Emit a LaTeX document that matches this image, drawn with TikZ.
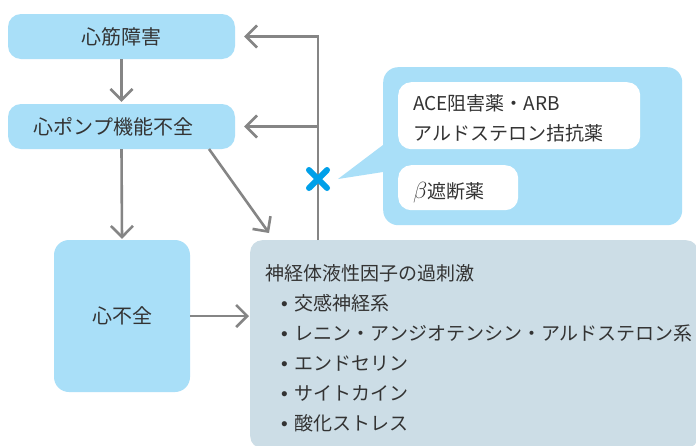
\documentclass[tikz,border=0pt]{standalone}
\usepackage{fontspec}
\setmainfont{Noto Sans CJK JP}
\newfontfamily\bulfont{Liberation Sans}
\usetikzlibrary{arrows.meta,calc}
\definecolor{boxblue}{HTML}{A9DFF8}
\definecolor{nfgray}{HTML}{CCDDE6}
\definecolor{arrgray}{HTML}{858585}
\definecolor{txt}{HTML}{333333}
\definecolor{xblue}{HTML}{00A0E9}
\tikzset{
  bluebox/.style={fill=boxblue, rounded corners=13pt, inner sep=0pt, text=txt, font=\fontsize{20}{24}\selectfont},
  whitebox/.style={fill=white, rounded corners=13pt, inner sep=0pt},
  line/.style={anchor=base west, inner sep=0pt, text=txt, font=\fontsize{19}{24}\selectfont},
  arr/.style={draw=arrgray, line width=2.6pt, -{Straight Barb[length=11pt,width=22pt]}},
  plain/.style={draw=arrgray, line width=2.6pt}
}
\newcommand{\bul}{{\bulfont •}\hspace{7pt}}
\begin{document}
\begin{tikzpicture}[x=1pt,y=-1pt]
\clip (0,0) rectangle (696,445);
\fill[white] (0,0) rectangle (696,445);
% boxes
\node[bluebox, minimum width=227pt, minimum height=45pt] (b1) at (121.5,36.5) {心筋障害};
\node[bluebox, minimum width=227pt, minimum height=45pt] (b2) at (121.5,126.5) {\hspace*{-16pt}心ポンプ機能不全};
\node[bluebox, minimum width=136pt, minimum height=152pt, rounded corners=15pt] (b3) at (122,316) {心不全};
\node[fill=nfgray, rounded corners=12pt, minimum width=448pt, minimum height=208pt, inner sep=0pt, anchor=north west] (nf) at (250,240) {};
% callout
\node[fill=boxblue, rounded corners=15pt, minimum width=299pt, minimum height=158pt, inner sep=0pt, anchor=north west] (co) at (383,67) {};
\fill[boxblue] (co.west |- 0,145) -- (338,179) -- (co.west |- 0,172) -- cycle;
\node[whitebox, minimum width=242pt, minimum height=67pt, anchor=north west] (wa) at (398,82) {};
\node[whitebox, minimum width=120pt, minimum height=45pt, anchor=north west] (wb) at (398,165) {};
\node[line] (ca1) at (413,110) {ACE阻害薬・ARB};
\node[line] (ca2) at (413,140) {アルドステロン拮抗薬};
\node[line] (cb1) at (413,198) {\scalebox{1.35}{$\beta$}遮断薬};
% big box text
\node[line] (t0) at (265,280) {神経体液性因子の過刺激};
\node[line] (t1) at (281,310) {\bul 交感神経系};
\node[line] (t2) at (281,340) {\bul レニン・アンジオテンシン・アルドステロン系};
\node[line] (t3) at (281,370) {\bul エンドセリン};
\node[line] (t4) at (281,400) {\bul サイトカイン};
\node[line] (t5) at (281,430) {\bul 酸化ストレス};
% connectors
\coordinate (fb) at (318,240);
\coordinate (j2) at (fb |- b2.east);
\coordinate (d1) at (209,149);
\coordinate (d2) at (269,233);
\draw[arr, shorten >=2pt] (b1.south) -- (b2.north);
\draw[arr, shorten >=1pt] (b2.south) -- (b3.north);
\draw[arr] (d1) -- (d2);
\draw[arr, shorten >=1pt] (b3.east) -- (nf.west |- b3.east);
\draw[arr, shorten >=9pt] (fb) |- (b1.east);
\draw[arr, shorten >=9pt] (j2) -- (b2.east);
% X mark
\coordinate (xm) at (318,179);
\draw[xblue, line width=6pt, line cap=round] ($(xm)+(-9,-9)$) -- ($(xm)+(9,9)$) ($(xm)+(-9,9)$) -- ($(xm)+(9,-9)$);
\end{tikzpicture}
\end{document}
